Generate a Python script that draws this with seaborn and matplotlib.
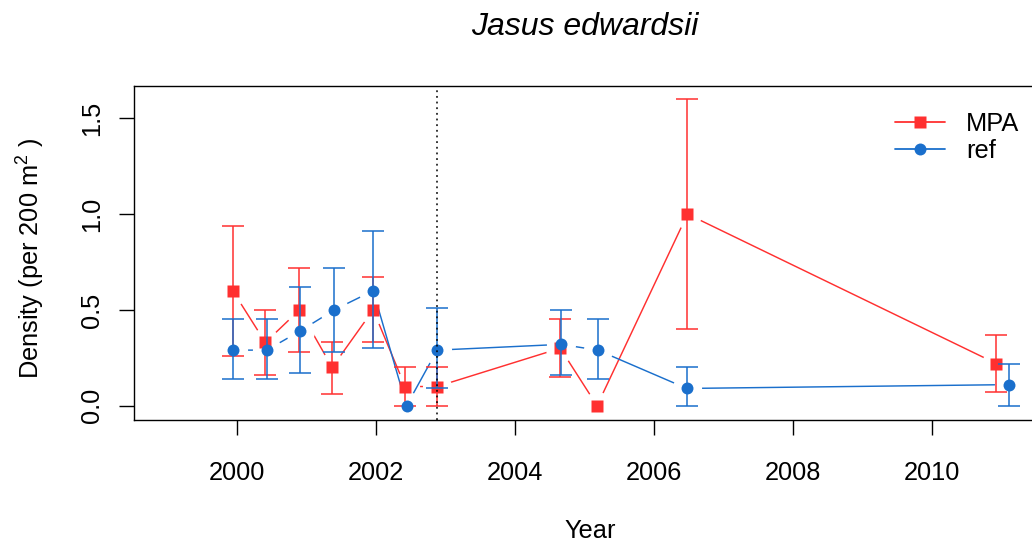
import numpy as np
import pandas as pd
import seaborn as sns
import matplotlib.pyplot as plt
from matplotlib.lines import Line2D

# survey dates and densities
mpa_year = [1999.94, 2000.41, 2000.90, 2001.37, 2001.96, 2002.42, 2002.88, 2004.65, 2005.18, 2006.48, 2010.92]
mpa_density = [0.60, 0.33, 0.50, 0.20, 0.50, 0.10, 0.10, 0.30, 0.00, 1.00, 0.22]
mpa_lower = [0.26, 0.16, 0.28, 0.06, 0.33, 0.00, 0.00, 0.15, np.nan, 0.40, 0.07]
mpa_upper = [0.94, 0.50, 0.72, 0.33, 0.67, 0.20, 0.20, 0.45, np.nan, 1.60, 0.37]

ref_year = [1999.94, 2000.43, 2000.91, 2001.40, 2001.96, 2002.44, 2002.88, 2004.66, 2005.19, 2006.47, 2011.11]
ref_density = [0.29, 0.29, 0.39, 0.50, 0.60, 0.00, 0.29, 0.32, 0.29, 0.09, 0.11]
ref_lower = [0.14, 0.14, 0.17, 0.28, 0.30, np.nan, 0.09, 0.16, 0.14, 0.00, 0.00]
ref_upper = [0.45, 0.45, 0.62, 0.72, 0.91, np.nan, 0.51, 0.50, 0.45, 0.20, 0.22]

sites = ["MPA", "ref"]
colors = {"MPA": "#ff3030", "ref": "#1a6fcc"}
markers = {"MPA": "s", "ref": "o"}
protection_year = 2002.88


def build_frame():
    mpa = pd.DataFrame({"year": mpa_year, "density": mpa_density,
                        "lower": mpa_lower, "upper": mpa_upper, "site": "MPA"})
    ref = pd.DataFrame({"year": ref_year, "density": ref_density,
                        "lower": ref_lower, "upper": ref_upper, "site": "ref"})
    return pd.concat([mpa, ref], ignore_index=True)


def main():
    df = build_frame()

    sns.set_style("white")
    plt.rcParams["font.family"] = ["Liberation Sans", "DejaVu Sans"]
    plt.rcParams["mathtext.default"] = "regular"
    plt.rcParams["text.color"] = "black"

    fig = plt.figure(figsize=(10.32, 5.47), dpi=100)
    ax = fig.add_axes([0.1298, 0.2322, 0.878, 0.6106])

    # lines with a white halo round each point (R type="b" look)
    for i, site in enumerate(sites):
        d = df[df["site"] == site]
        sns.lineplot(data=d, x="year", y="density", color=colors[site],
                     estimator=None, sort=False, lw=1.05, ax=ax, zorder=2 + 0.2 * i)
        ax.plot(d["year"], d["density"], ls="none", marker="o", ms=21,
                mfc="white", mec="none", zorder=2.1 + 0.2 * i)

    # error bars and markers on top
    for i, site in enumerate(sites):
        d = df[df["site"] == site]
        e = d.dropna(subset=["lower", "upper"])
        ax.errorbar(e["year"], e["density"],
                    yerr=[e["density"] - e["lower"], e["upper"] - e["density"]],
                    fmt="none", ecolor=colors[site], elinewidth=1.1,
                    capsize=8, capthick=1.1, zorder=3 + i)
        ax.plot(d["year"], d["density"], ls="none", marker=markers[site],
                ms=8.6, color=colors[site], mec="none", zorder=3.5 + i)

    ax.axvline(protection_year, color="black", lw=1.1, ls=(0, (1.2, 2.5)), zorder=6)

    ax.set_xlim(1998.52, 2011.55)
    ax.set_ylim(-0.0746, 1.6686)
    ax.set_xticks([2000, 2002, 2004, 2006, 2008, 2010])
    ax.set_yticks([0.0, 0.5, 1.0, 1.5])
    ax.set_yticklabels(["0.0", "0.5", "1.0", "1.5"])
    ax.set_xlabel("")
    ax.set_ylabel("")

    for spine in ax.spines.values():
        spine.set_visible(True)
        spine.set_color("black")
        spine.set_linewidth(1.0)
        spine.set_zorder(10)

    ax.tick_params(axis="both", direction="out", length=10.8, width=1.0,
                   color="black", labelsize=18.3, labelcolor="black")
    ax.tick_params(axis="x", pad=18.5, bottom=True)
    ax.tick_params(axis="y", pad=11, left=True, labelrotation=90)
    plt.setp(ax.get_yticklabels(), va="center")

    handles = [Line2D([], [], color=colors[s], lw=1.3, marker=markers[s],
                      ms=8.6, mec="none") for s in sites]
    ax.legend(handles, sites, loc="upper left", frameon=False, fontsize=18.3,
              bbox_to_anchor=(895 / 1032, 1 - 112 / 547), bbox_transform=fig.transFigure,
              borderpad=0, borderaxespad=0, handlelength=1.95, handletextpad=0.85,
              labelspacing=0.12)

    fig.text(585 / 1032, 1 - 27 / 547, "Jasus edwardsii", fontsize=23,
             style="italic", ha="center", va="center")
    fig.text(590 / 1032, 1 - 531 / 547, "Year", fontsize=18.3, ha="center", va="center")
    fig.text(31 / 1032, 1 - 258 / 547, "Density (per 200 m$^2$ )", fontsize=18.3,
             rotation=90, ha="center", va="center")

    fig.savefig("out.png", dpi=100)
    plt.close(fig)


if __name__ == "__main__":
    main()
